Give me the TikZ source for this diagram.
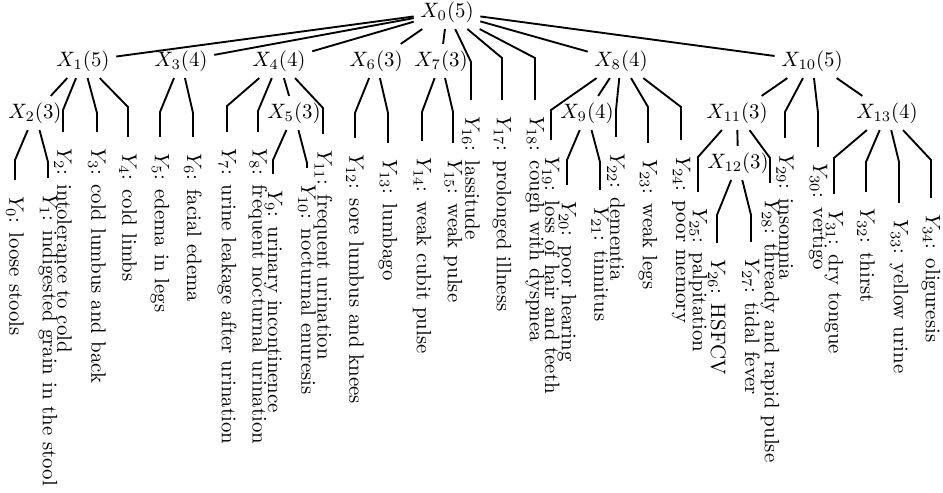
\documentclass[tikz,border=0pt]{standalone}
\begin{document}
\begin{tikzpicture}[x=0.48pt,y=-0.48pt,
  xn/.style={inner sep=3pt},
  leaf/.style={rotate=-90, anchor=west, inner xsep=7.5pt, inner ysep=1pt},
  conn/.style={line width=0.9pt}]
\useasboundingbox (0,0) rectangle (943,493);
% internal nodes
\node[xn] (x0) at (447,12) {$X_0(5)$};
\node[xn] (x1) at (83,61) {$X_1(5)$};
\node[xn] (x3) at (181,61) {$X_3(4)$};
\node[xn] (x4) at (279,61) {$X_4(4)$};
\node[xn] (x6) at (376,61) {$X_6(3)$};
\node[xn] (x7) at (441,61) {$X_7(3)$};
\node[xn] (x8) at (621,61) {$X_8(4)$};
\node[xn] (x10) at (812,61) {$X_{10}(5)$};
\node[xn] (x2) at (35,113) {$X_2(3)$};
\node[xn] (x5) at (294,113) {$X_5(3)$};
\node[xn] (x9) at (587,113) {$X_9(4)$};
\node[xn] (x11) at (737,113) {$X_{11}(3)$};
\node[xn] (x13) at (887,113) {$X_{13}(4)$};
\node[xn] (x12) at (738,163) {$X_{12}(3)$};
% bends
\coordinate (b0) at (15,160);
\coordinate (b1) at (48,162);
\coordinate (b2) at (63,110);
\coordinate (b3) at (97,113);
\coordinate (b4) at (128,107);
\coordinate (b5) at (160,112);
\coordinate (b6) at (193,113);
\coordinate (b7) at (227,106);
\coordinate (b8) at (258,111);
\coordinate (b9) at (273,160);
\coordinate (b10) at (307,163);
\coordinate (b11) at (323,108);
\coordinate (b12) at (355,113);
\coordinate (b13) at (388,113);
\coordinate (b14) at (422,112);
\coordinate (b15) at (453,112);
\coordinate (b16) at (471,62);
\coordinate (b17) at (502,58);
\coordinate (b18) at (535,58);
\coordinate (b19) at (551,110);
\coordinate (b20) at (567,160);
\coordinate (b21) at (600,162);
\coordinate (b22) at (616,110);
\coordinate (b23) at (648,107);
\coordinate (b24) at (681,107);
\coordinate (b25) at (698,157);
\coordinate (b26) at (717,215);
\coordinate (b27) at (751,215);
\coordinate (b28) at (770,158);
\coordinate (b29) at (785,112);
\coordinate (b30) at (818,113);
\coordinate (b31) at (834,158);
\coordinate (b32) at (866,162);
\coordinate (b33) at (899,162);
\coordinate (b34) at (931,160);
% leaves
\node[leaf] (y0) at (15,180) {$Y_{0}$: loose stools};
\node[leaf] (y1) at (48,178) {$Y_{1}$: indigested grain in the stool};
\node[leaf] (y2) at (63,132) {$Y_{2}$: intolerance to cold};
\node[leaf] (y3) at (97,132) {$Y_{3}$: cold lumbus and back};
\node[leaf] (y4) at (128,137) {$Y_{4}$: cold limbs};
\node[leaf] (y5) at (160,137) {$Y_{5}$: edema in legs};
\node[leaf] (y6) at (193,137) {$Y_{6}$: facial edema};
\node[leaf] (y7) at (227,132) {$Y_{7}$: urine leakage after urination};
\node[leaf] (y8) at (258,132) {$Y_{8}$: frequent nocturnal urination};
\node[leaf] (y9) at (273,174) {$Y_{9}$: urinary incontinence};
\node[leaf] (y10) at (307,168) {$Y_{10}$: nocturnal enuresis};
\node[leaf] (y11) at (323,134) {$Y_{11}$: frequent urination};
\node[leaf] (y12) at (355,138) {$Y_{12}$: sore lumbus and knees};
\node[leaf] (y13) at (388,143) {$Y_{13}$: lumbago};
\node[leaf] (y14) at (422,141) {$Y_{14}$: weak cubit pulse};
\node[leaf] (y15) at (453,143) {$Y_{15}$: weak pulse};
\node[leaf] (y16) at (471,100) {$Y_{16}$: lassitude};
\node[leaf] (y17) at (502,100) {$Y_{17}$: prolonged illness};
\node[leaf] (y18) at (535,100) {$Y_{18}$: cough with dyspnea};
\node[leaf] (y19) at (551,140) {$Y_{19}$: loss of hair and teeth};
\node[leaf] (y20) at (567,185) {$Y_{20}$: poor hearing};
\node[leaf] (y21) at (600,190) {$Y_{21}$: tinnitus};
\node[leaf] (y22) at (616,137) {$Y_{22}$: dementia};
\node[leaf] (y23) at (648,143) {$Y_{23}$: weak legs};
\node[leaf] (y24) at (681,140) {$Y_{24}$: poor memory};
\node[leaf] (y25) at (698,192) {$Y_{25}$: palpitation};
\node[leaf] (y26) at (717,243) {$Y_{26}$: HSFCV};
\node[leaf] (y27) at (751,242) {$Y_{27}$: tidal fever};
\node[leaf] (y28) at (770,183) {$Y_{28}$: thready and rapid pulse};
\node[leaf] (y29) at (785,138) {$Y_{29}$: insomnia};
\node[leaf] (y30) at (818,147) {$Y_{30}$: vertigo};
\node[leaf] (y31) at (834,194) {$Y_{31}$: dry tongue};
\node[leaf] (y32) at (866,192) {$Y_{32}$: thirst};
\node[leaf] (y33) at (899,203) {$Y_{33}$: yellow urine};
\node[leaf] (y34) at (931,198) {$Y_{34}$: oliguresis};
% internal edges
\draw[conn] (x0) -- (x1);
\draw[conn] (x0) -- (x3);
\draw[conn] (x0) -- (x4);
\draw[conn] (x0) -- (x6);
\draw[conn] (x0) -- (x7);
\draw[conn] (x0) -- (x8);
\draw[conn] (x0) -- (x10);
\draw[conn] (x1) -- (x2);
\draw[conn] (x4) -- (x5);
\draw[conn] (x8) -- (x9);
\draw[conn] (x10) -- (x11);
\draw[conn] (x10) -- (x13);
\draw[conn] (x11) -- (x12);
% leaf edges
\draw[conn] (x2) -- (b0) -- (y0.west);
\draw[conn] (x2) -- (b1) -- (y1.west);
\draw[conn] (x1) -- (b2) -- (y2.west);
\draw[conn] (x1) -- (b3) -- (y3.west);
\draw[conn] (x1) -- (b4) -- (y4.west);
\draw[conn] (x3) -- (b5) -- (y5.west);
\draw[conn] (x3) -- (b6) -- (y6.west);
\draw[conn] (x4) -- (b7) -- (y7.west);
\draw[conn] (x4) -- (b8) -- (y8.west);
\draw[conn] (x5) -- (b9) -- (y9.west);
\draw[conn] (x5) -- (b10) -- (y10.west);
\draw[conn] (x4) -- (b11) -- (y11.west);
\draw[conn] (x6) -- (b12) -- (y12.west);
\draw[conn] (x6) -- (b13) -- (y13.west);
\draw[conn] (x7) -- (b14) -- (y14.west);
\draw[conn] (x7) -- (b15) -- (y15.west);
\draw[conn] (x0) -- (b16) -- (y16.west);
\draw[conn] (x0) -- (b17) -- (y17.west);
\draw[conn] (x0) -- (b18) -- (y18.west);
\draw[conn] (x8) -- (b19) -- (y19.west);
\draw[conn] (x9) -- (b20) -- (y20.west);
\draw[conn] (x9) -- (b21) -- (y21.west);
\draw[conn] (x8) -- (b22) -- (y22.west);
\draw[conn] (x8) -- (b23) -- (y23.west);
\draw[conn] (x8) -- (b24) -- (y24.west);
\draw[conn] (x11) -- (b25) -- (y25.west);
\draw[conn] (x12) -- (b26) -- (y26.west);
\draw[conn] (x12) -- (b27) -- (y27.west);
\draw[conn] (x11) -- (b28) -- (y28.west);
\draw[conn] (x10) -- (b29) -- (y29.west);
\draw[conn] (x10) -- (b30) -- (y30.west);
\draw[conn] (x13) -- (b31) -- (y31.west);
\draw[conn] (x13) -- (b32) -- (y32.west);
\draw[conn] (x13) -- (b33) -- (y33.west);
\draw[conn] (x13) -- (b34) -- (y34.west);
\end{tikzpicture}
\end{document}
